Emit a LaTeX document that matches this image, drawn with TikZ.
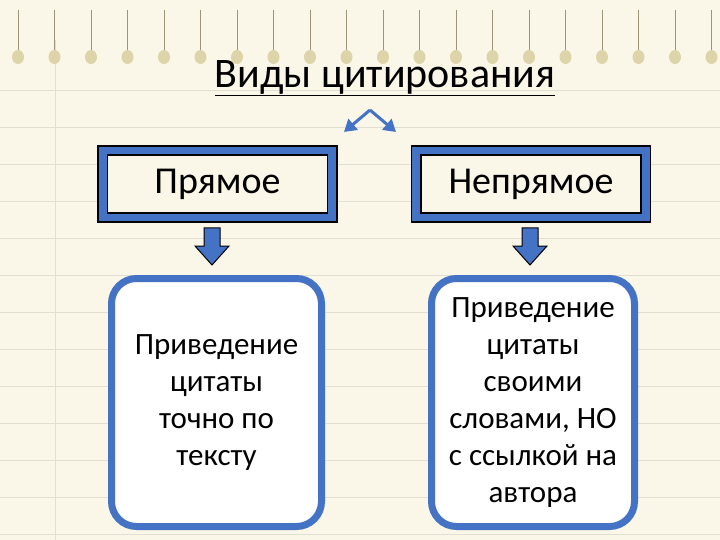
\documentclass[tikz,border=0pt]{standalone}
\usepackage{fontspec}
\setmainfont{Carlito}
\usetikzlibrary{arrows.meta}
\definecolor{paper}{RGB}{250,247,232}
\definecolor{bl}{RGB}{68,114,196}
\definecolor{ring}{RGB}{222,212,170}
\definecolor{rule}{RGB}{225,222,210}
\tikzset{
  outerbox/.style={draw=black,fill=bl,line width=1.2pt,minimum width=239pt,minimum height=76pt},
  innerbox/.style={draw=black,fill=paper,line width=1.2pt,minimum width=220pt,minimum height=58pt,font=\fontsize{38}{40}\selectfont},
  roundbox/.style={draw=bl,fill=white,line width=7pt,rounded corners=25pt,align=center,font=\fontsize{31}{37}\selectfont},
  downarr/.style={draw=black,fill=bl,line width=1pt}
}
\begin{document}
\begin{tikzpicture}[x=1pt,y=-1pt]
\useasboundingbox (0,0) rectangle (720,540);
\fill[paper] (0,0) rectangle (720,540);
\foreach \y in {90,127,164,201,238,275,312,349,386,423,460,497,534}
  \draw[rule,line width=0.8pt] (0,\y) -- (720,\y);
\draw[rule,line width=0.8pt] (55,40) -- (55,540);
\foreach \i in {0,...,19} {
  \draw[ring!70!black,line width=1pt] ({18+36.5*\i},10) -- ({18+36.5*\i},50);
  \fill[ring] ({18+36.5*\i},57) ellipse (6pt and 7pt);
}
\node[font=\fontsize{42}{44}\selectfont] (title) at (385,78) {\underline{Виды цитирования}};
% small double arrow
\coordinate (top) at (370,110);
\coordinate (dl) at (344,132);
\coordinate (dr) at (396,132);
\draw[bl,line width=3pt,-{Triangle[length=12pt,width=14pt]}] (top) -- (dl);
\draw[bl,line width=3pt,-{Triangle[length=12pt,width=14pt]}] (top) -- (dr);
% boxes
\node[outerbox] (lo) at (217.5,184) {};
\node[innerbox] (li) at (217.5,184) {Прямое};
\node[outerbox] (ro) at (531,184) {};
\node[innerbox] (ri) at (531,184) {Непрямое};
% down arrows
\foreach \x/\n in {212/la,530/ra} {
  \draw[downarr] (\x-8,228) -- (\x+8,228) -- (\x+8,246) -- (\x+17,246) -- (\x,265) -- (\x-17,246) -- (\x-8,246) -- cycle;
  \coordinate (\n) at (\x,265);
}
\node[roundbox,minimum width=210pt,minimum height=248pt] (lr) at (216.5,402.5) {Приведение\\цитаты\\точно по\\тексту};
\node[roundbox,minimum width=203pt,minimum height=248pt] (rr) at (533,402.5) {Приведение\\цитаты\\своими\\словами, НО\\с ссылкой на\\автора};
\end{tikzpicture}
\end{document}
